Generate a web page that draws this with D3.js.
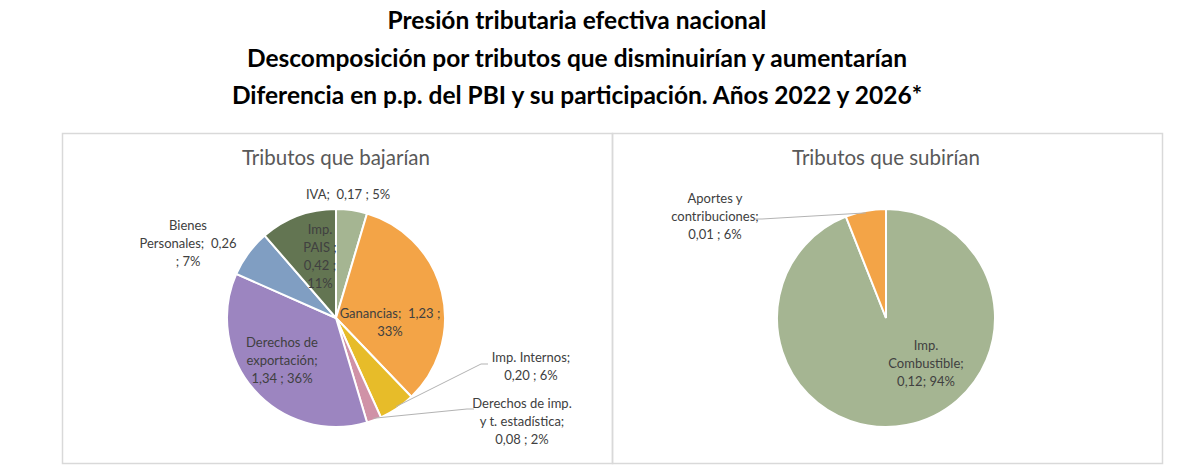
<!DOCTYPE html>
<html>
<head>
<meta charset="utf-8">
<script src="https://cdn.jsdelivr.net/npm/d3@7"></script>
<style>
  body { margin: 0; background: white; }
  text { font-family: Lato, "Open Sans", sans-serif; white-space: pre; }
</style>
</head>
<body>
<div id="container"></div>
<script>
let w = 1200;
let h = 468;

// data
let titleLines = [
  "Presión tributaria efectiva nacional",
  "Descomposición por tributos que disminuirían y aumentarían",
  "Diferencia en p.p. del PBI y su participación. Años 2022 y 2026*"
];

let bajanNames = ["IVA", "Ganancias", "Imp. Internos", "Derechos de imp. y t. estadística",
  "Derechos de exportación", "Bienes Personales", "Imp. PAIS"];
let bajanValues = [0.17, 1.23, 0.20, 0.08, 1.34, 0.26, 0.42];
let bajanPct = [5, 33, 6, 2, 36, 7, 11];
let bajanLabels = [
  ["IVA;  0,17 ; 5%"],
  ["Ganancias;  1,23 ;", "33%"],
  ["Imp. Internos;", "0,20 ; 6%"],
  ["Derechos de imp.", "y t. estadística;", "0,08 ; 2%"],
  ["Derechos de", "exportación;", "1,34 ; 36%"],
  ["Bienes", "Personales;  0,26", "; 7%"],
  ["Imp.", "PAIS ;", "0,42 ;", "11%"]
];

let subenNames = ["Imp. Combustible", "Aportes y contribuciones"];
let subenValues = [0.12, 0.01];
let subenPct = [94, 6];
let subenLabels = [
  ["Imp.", "Combustible;", "0,12; 94%"],
  ["Aportes y", "contribuciones;", "0,01 ; 6%"]
];

// colours
let bajanColors = ["#a5b592", "#f3a447", "#e7bc29", "#d092a7", "#9c85c0", "#809ec2", "#637552"];
let subenColors = ["#a5b592", "#f3a447"];

// label placement relative to pie centre (layout, not data)
let bajanLabelPos = [
  {x: 12, y: -124}, {x: 54, y: 4}, {x: 195, y: 48, lx: 145, ly: 46},
  {x: 186, y: 103, lx: 131, ly: 91}, {x: -54, y: 42}, {x: -148, y: -75}, {x: -16, y: -62}
];
let subenLabelPos = [
  {x: 40, y: 45}, {x: -171, y: -102, lx: -124, ly: -99}
];

let viz = d3.select("#container")
.append("svg")
.attr("width", w)
.attr("height", h)
.style("background-color", "white")
;

// main title
viz.append("g").selectAll("text").data(titleLines).enter()
.append("text")
.attr("x", 577)
.attr("y", function(d, i){ return 29 + i * 37.5; })
.attr("text-anchor", "middle")
.style("font-size", "24.5px")
.style("font-weight", "bold")
.style("fill", "#000")
.text(function(d){ return d; })
;

// the two framed panels
let panels = [
  {x: 62, title: "Tributos que bajarían", values: bajanValues, colors: bajanColors, labels: bajanLabels, pos: bajanLabelPos},
  {x: 612, title: "Tributos que subirían", values: subenPct, colors: subenColors, labels: subenLabels, pos: subenLabelPos}
];

let panelW = 550;
let panelTop = 133;
let panelH = 330;
let r = 109;
let lh = 18;

let pie = d3.pie().sort(null).value(function(d){ return d; });
let arc = d3.arc().innerRadius(0).outerRadius(r);

panels.forEach(function(p){
  let g = viz.append("g");
  g.append("rect")
  .attr("x", p.x + 0.5)
  .attr("y", panelTop + 0.5)
  .attr("width", panelW)
  .attr("height", panelH)
  .style("fill", "none")
  .style("stroke", "#d9d9d9")
  .style("stroke-width", 1.5)
  ;

  let cx = p.x + 274;
  let cy = 318;

  g.append("text")
  .attr("x", cx)
  .attr("y", 165)
  .attr("text-anchor", "middle")
  .style("font-size", "20.5px")
  .style("fill", "#595959")
  .text(p.title)
  ;

  let arcs = pie(p.values);
  let pieGroup = g.append("g").attr("transform", "translate(" + cx + "," + cy + ")");

  pieGroup.selectAll("path").data(arcs).enter()
  .append("path")
  .attr("d", arc)
  .style("fill", function(d, i){ return p.colors[i]; })
  .style("stroke", "white")
  .style("stroke-width", 2)
  ;

  // leader lines for labels that sit outside the pie
  arcs.forEach(function(d, i){
    let pos = p.pos[i];
    if(pos.lx === undefined){ return; }
    let mid = (d.startAngle + d.endAngle) / 2;
    let sx = Math.sin(mid) * (r - 2);
    let sy = -Math.cos(mid) * (r - 2);
    let dir = pos.lx > 0 ? 1 : -1;
    pieGroup.append("path")
    .attr("d", "M" + sx + "," + sy + "L" + pos.lx + "," + pos.ly + "L" + (pos.lx + dir * 7) + "," + pos.ly)
    .style("fill", "none")
    .style("stroke", "#b3b3b3")
    .style("stroke-width", 1)
    ;
  });

  arcs.forEach(function(d, i){
    let pos = p.pos[i];
    let lines = p.labels[i];
    let t = pieGroup.append("text")
    .attr("text-anchor", "middle")
    .style("font-size", "13px")
    .style("fill", "#404040")
    ;
    t.selectAll("tspan").data(lines).enter()
    .append("tspan")
    .attr("x", pos.x)
    .attr("y", function(l, j){ return pos.y + (j - (lines.length - 1) / 2) * lh; })
    .attr("dy", "0.35em")
    .text(function(l){ return l; })
    ;
  });
});
</script>
</body>
</html>
